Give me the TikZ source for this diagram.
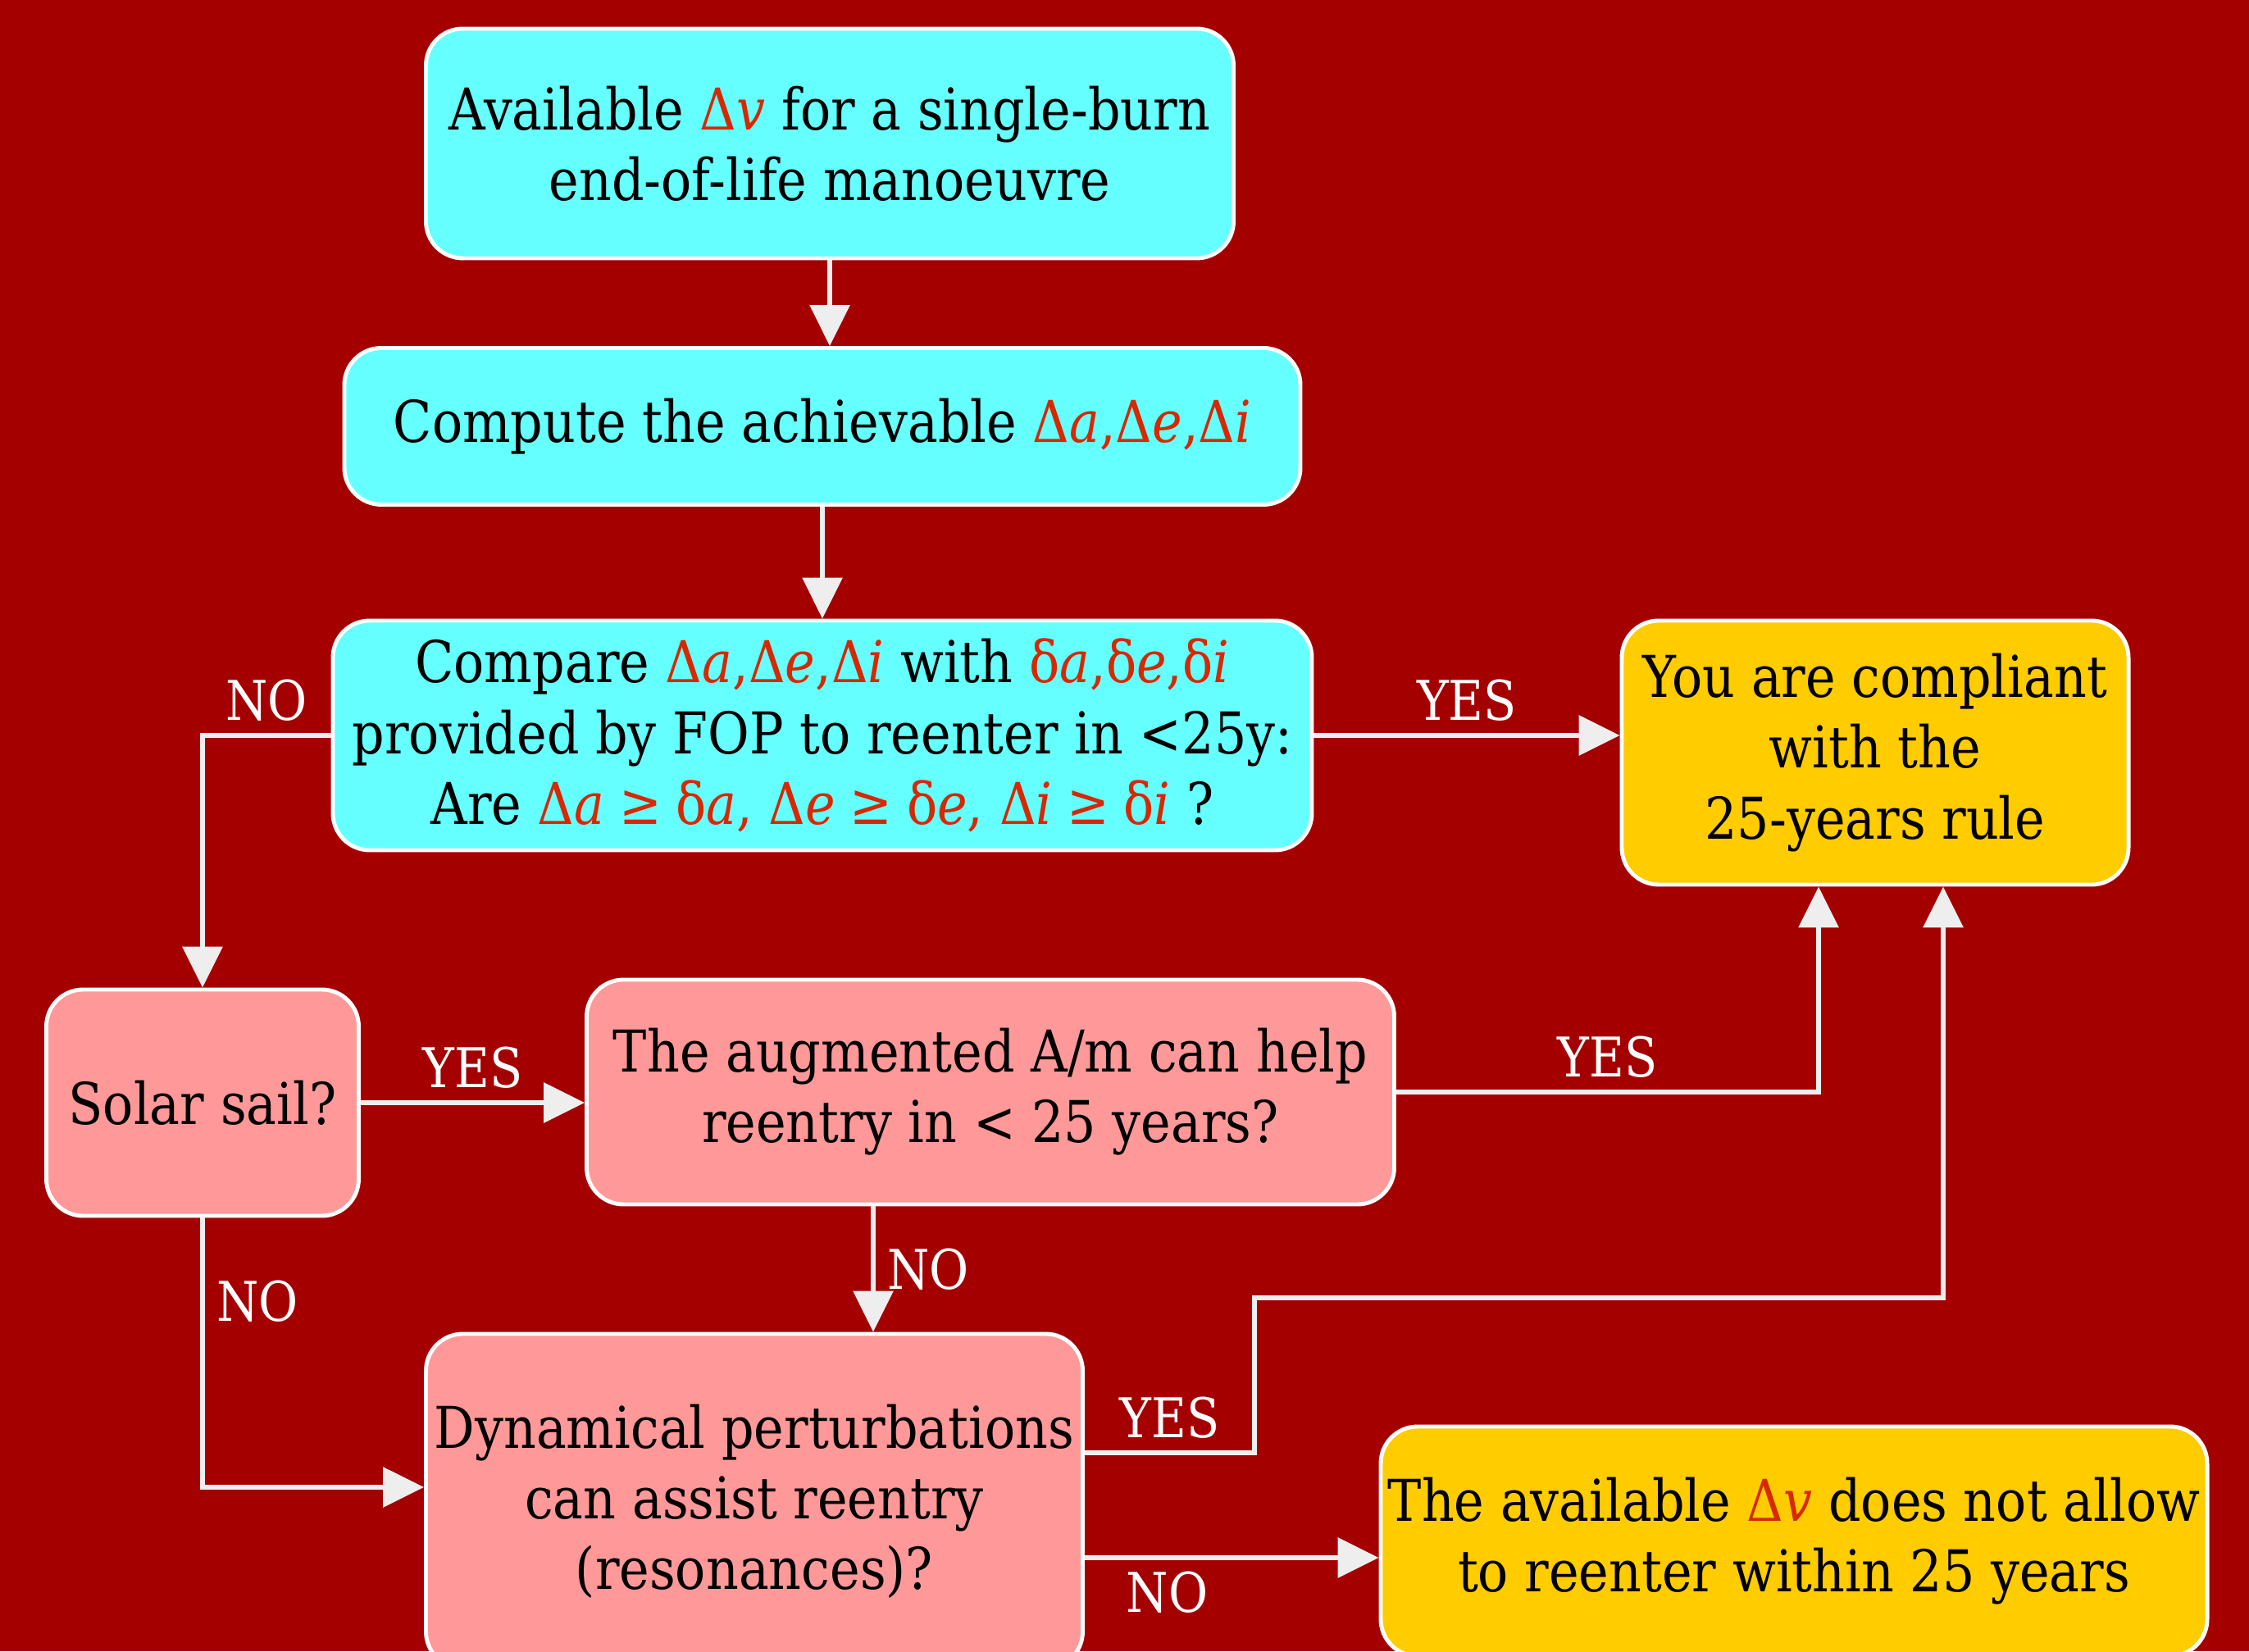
\documentclass[tikz,border=0pt]{standalone}
\usepackage{fontspec}
\setmainfont[FakeStretch=0.88]{DejaVu Serif}
\usetikzlibrary{arrows.meta,positioning}
\definecolor{bgred}{RGB}{165,0,0}
\definecolor{boxcyan}{RGB}{102,255,255}
\definecolor{boxpink}{RGB}{255,153,153}
\definecolor{boxyellow}{RGB}{255,204,0}
\definecolor{symred}{RGB}{215,40,0}
\definecolor{linegray}{RGB}{238,238,238}
\newcommand{\sym}[1]{\textcolor{symred}{#1}}
\newcommand{\geqsym}{\kern0.25em≥\kern0.25em}
\tikzset{
  box/.style={draw=white, line width=1.4pt, rounded corners=0.45cm, align=center,
    inner sep=0pt, font=\fontsize{20}{24.5}\selectfont},
  arrow/.style={draw=linegray, line width=1.8pt, -{Triangle[width=0.48cm,length=0.5cm]}},
  lbl/.style={text=white, inner sep=4pt, font=\fontsize{19}{22}\selectfont},
}
\begin{document}
\begin{tikzpicture}
% Background
\useasboundingbox (0,0) rectangle (27.43,20.14);
\fill[bgred] (0,0) rectangle (27.43,20.14);
% Boxes
\node[box, fill=boxcyan, minimum width=9.85cm, minimum height=2.8cm] (avail) at (10.12,18.39)
  {Available \sym{Δ\textit{v}} for a single-burn\\end-of-life manoeuvre};
\node[box, fill=boxcyan, minimum width=11.66cm, minimum height=1.91cm] (compute) at (10.03,14.94)
  {Compute the achievable \sym{Δ\textit{a},Δ\textit{e},Δ\textit{i}}};
\node[box, fill=boxcyan, minimum width=11.94cm, minimum height=2.8cm] (compare) at (10.03,11.17)
  {Compare \sym{Δ\textit{a},Δ\textit{e},Δ\textit{i}} with \sym{δ\textit{a},δ\textit{e},δ\textit{i}}\\
   provided by FOP to reenter in <25y:\\
   Are \sym{Δ\textit{a}\geqsym δ\textit{a},\ Δ\textit{e}\geqsym δ\textit{e},\ Δ\textit{i}\geqsym δ\textit{i}} ?};
\node[box, fill=boxyellow, minimum width=6.18cm, minimum height=3.22cm] (comply) at (22.87,10.96)
  {You are compliant\\with the\\25-years rule};
\node[box, fill=boxpink, minimum width=3.81cm, minimum height=2.76cm] (solar) at (2.47,6.69)
  {Solar sail?};
\node[box, fill=boxpink, minimum width=9.85cm, minimum height=2.74cm] (augm) at (12.08,6.82)
  {The augmented A/m can help\\reentry in < 25 years?};
\node[box, fill=boxpink, minimum width=8.01cm, minimum height=4.08cm] (dyn) at (9.2,1.83)
  {Dynamical perturbations\\can assist reentry\\(resonances)?};
\node[box, fill=boxyellow, minimum width=10.08cm, minimum height=2.8cm] (notallow) at (21.88,1.34)
  {The available \sym{Δ\textit{v}} does not allow\\to reenter within 25 years};
% Helper points
\coordinate (comply1) at ([xshift=-0.69cm]comply.south);
\coordinate (comply2) at ([xshift=0.83cm]comply.south);
\coordinate (augm1) at ([xshift=-1.43cm]augm.south);
\coordinate (dyn1) at ([yshift=0.17cm]dyn.west);
\coordinate (dyn2) at ([yshift=0.59cm]dyn.east);
\coordinate (dyn3) at ([yshift=-0.69cm]dyn.east);
\coordinate (bend) at (15.30,4.31);
% Connectors
\draw[arrow] (avail.south) -- (avail.south |- compute.north);
\draw[arrow] (compute.south) -- (compute.south |- compare.north);
\draw[arrow] (compare.west) -- node[lbl, above] {NO} (compare.west -| solar.north) -- (solar.north);
\draw[arrow] (compare.east) -- node[lbl, above] {YES} (compare.east -| comply.west);
\draw[arrow] (solar.east) -- node[lbl, above] {YES} (solar.east -| augm.west);
\draw[arrow] (augm.east) -- node[lbl, above] {YES} (augm.east -| comply1) -- (comply1);
\draw[arrow] (augm1) -- node[lbl, right] {NO} (augm1 |- dyn.north);
\draw[arrow] (solar.south) -- node[lbl, pos=0.31, right] {NO} (solar.south |- dyn1) -- (dyn1);
\draw[arrow] (dyn2) -- node[lbl, above] {YES} (dyn2 -| bend) -- (bend) -| (comply2);
\draw[arrow] (dyn3) -- node[lbl, pos=0.28, below] {NO} (dyn3 -| notallow.west);
\end{tikzpicture}
\end{document}
